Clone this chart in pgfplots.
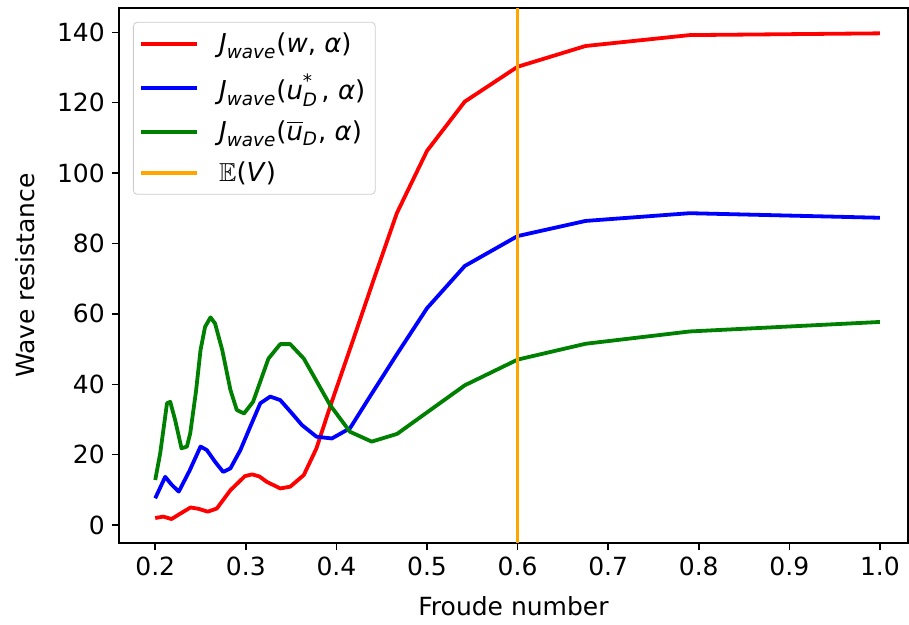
\documentclass[border=0pt]{standalone}
\usepackage{pgfplots}
\pgfplotsset{compat=1.18}
\usepackage{amssymb}
\usepackage{fontspec}
\setmainfont{DejaVu Sans}
\definecolor{mplred}{RGB}{255,0,0}
\definecolor{mplblue}{RGB}{0,0,255}
\definecolor{mplgreen}{RGB}{0,128,0}
\definecolor{mplorange}{RGB}{255,165,0}
\newcommand{\myit}[1]{\hbox{\itshape #1}}
\newcommand{\mysit}[1]{\hbox{\fontsize{9.2}{9}\selectfont\itshape #1}}
\begin{document}
\begin{tikzpicture}
\useasboundingbox (-59.5pt,-41pt) rectangle (395pt,271.5pt);
\begin{axis}[
  at={(0,0)}, anchor=south west,
  scale only axis,
  width=394.5pt, height=267.5pt,
  xmin=0.160, xmax=1.031,
  ymin=-5.1, ymax=146.9,
  xtick={0.2,0.3,0.4,0.5,0.6,0.7,0.8,0.9,1.0},
  ytick={0,20,40,60,80,100,120,140},
  xticklabel style={/pgf/number format/.cd,fixed,fixed zerofill,precision=1},
  /pgf/number format/assume math mode=true,
  tick align=outside,
  tick pos=left,
  major tick length=3.6pt,
  tick style={black, line width=0.75pt},
  axis line style={line width=0.75pt},
  font=\fontsize{12.5}{14}\selectfont,
  ticklabel style={font=\fontsize{12.5}{14}\selectfont},
  xlabel={Froude number},
  ylabel={Wave resistance},
  label style={font=\fontsize{12.5}{14}\selectfont},
  xlabel style={yshift=-3.5pt},
  ylabel style={yshift=4pt},
  legend style={at={(0.0177,0.974)}, anchor=north west, draw=black!20, rounded corners=2pt,
    font=\fontsize{13}{15}\selectfont, row sep=5.2pt, column sep=8pt, inner sep=3pt},
  legend cell align=left,
  legend image code/.code={\draw[#1] (0pt,0pt) -- (28pt,0pt);},
  every axis plot/.append style={line width=1.9pt, line join=round},
]
\addplot[mplred] coordinates {
(0.200,2.0) (0.209,2.4) (0.218,1.7) (0.228,3.3) (0.239,5.0) (0.248,4.6) (0.258,3.8) (0.268,4.7)
(0.283,9.9) (0.299,13.9) (0.307,14.4) (0.315,13.8) (0.323,12.3) (0.338,10.4) (0.349,10.9)
(0.364,14.2) (0.378,21.8) (0.393,33.6) (0.419,53.0) (0.441,69.6) (0.4667,88.6) (0.5,106.3)
(0.5417,120.3) (0.6,130.2) (0.675,136.1) (0.79,139.2) (1.0,139.7)};
\addlegendentry{$\myit{J}_{\mysit{wave}}$(\textit{w}, \textit{α})}
\addplot[mplblue] coordinates {
(0.2,7.6) (0.211,13.7) (0.218,11.5) (0.226,9.5) (0.238,15.5) (0.25,22.3) (0.257,21.3) (0.266,18)
(0.275,15.1) (0.283,16.1) (0.294,21.3) (0.305,28) (0.316,34.6) (0.327,36.5) (0.338,35.5) (0.35,32)
(0.362,28.4) (0.378,25.1) (0.395,24.6) (0.415,27.5) (0.437,36.5) (0.4667,48.5) (0.5,61.6)
(0.5417,73.6) (0.6,82.1) (0.675,86.4) (0.79,88.6) (1.0,87.3)};
\addlegendentry{$\myit{J}_{\mysit{wave}}$(\textit{u}\rlap{\raisebox{6pt}{\mysit{*}}}\raisebox{-3.5pt}{\mysit{D}}\,, \textit{α})}
\addplot[mplgreen] coordinates {
(0.2,12.8) (0.2055,20.4) (0.213,34.6) (0.2166,35.0) (0.222,29.8) (0.229,21.8) (0.235,22.3)
(0.2386,26.0) (0.245,38) (0.250,49.7) (0.255,56.3) (0.261,59.0) (0.266,57.3) (0.274,49.7)
(0.283,38.4) (0.290,32.7) (0.298,31.7) (0.308,35.0) (0.325,47.3) (0.338,51.4) (0.349,51.4)
(0.364,47.3) (0.393,34.1) (0.415,26.5) (0.439,23.7) (0.467,25.9) (0.5,32) (0.5417,39.7)
(0.6,47) (0.675,51.5) (0.79,55) (1.0,57.7)};
\addlegendentry{$\myit{J}_{\mysit{wave}}$($\overline{\myit{u}}_{\mysit{D}}$, \textit{α})}
\addplot[mplorange] coordinates {(0.6,-5.1) (0.6,146.9)};
\addlegendentry{$\mathbb{E}$(\textit{V})}
\end{axis}
\end{tikzpicture}
\end{document}
